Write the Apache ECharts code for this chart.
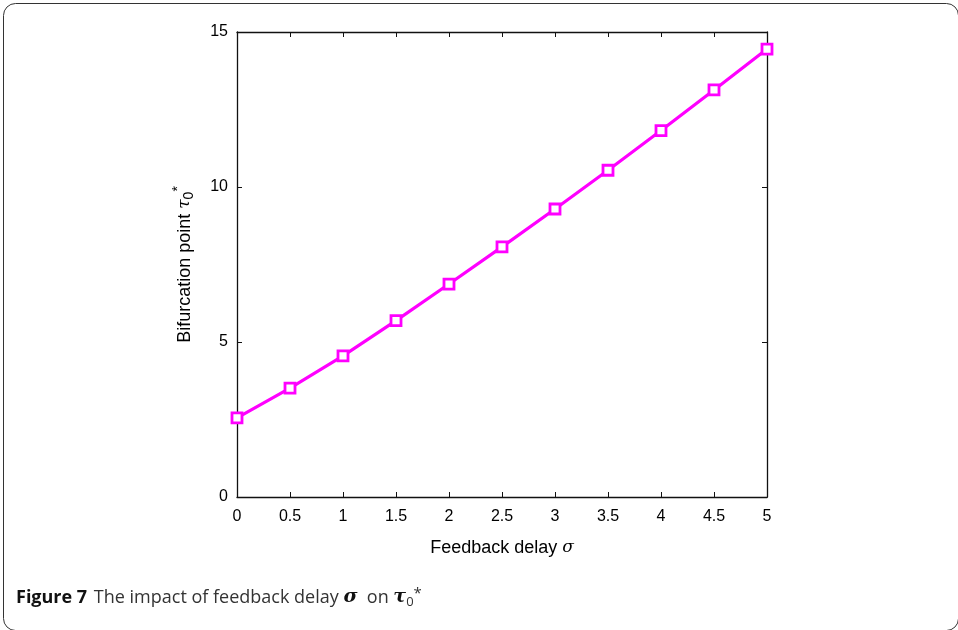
<!DOCTYPE html>
<html>
<head>
<meta charset="utf-8">
<script src="https://cdn.jsdelivr.net/npm/echarts@6/dist/echarts.min.js"></script>
<style>
  html, body { margin: 0; padding: 0; background: #fff; }
  #chart { width: 958px; height: 630px; }
</style>
</head>
<body>
<div id="chart"></div>
<script>
  // 数据
  const sigma = [0, 0.5, 1, 1.5, 2, 2.5, 3, 3.5, 4, 4.5, 5];
  const tau0 = [2.55, 3.51, 4.55, 5.69, 6.87, 8.07, 9.29, 10.54, 11.82, 13.13, 14.45];
  const xTicks = [0, 0.5, 1, 1.5, 2, 2.5, 3, 3.5, 4, 4.5, 5];
  const yTicks = [0, 5, 10, 15];

  const axisFont = 'Liberation Sans';
  const lineColor = '#ff00ff';

  let myChart = echarts.init(document.getElementById('chart'));

  // 坐标轴公共样式
  const frameLine = { show: true, onZero: false, lineStyle: { color: '#111', width: 1.3 } };
  const inTick = { show: true, inside: true, length: 5, lineStyle: { color: '#111' } };

  myChart.setOption({
    animation: false,
    grid: { left: 237, top: 32, width: 530, height: 465 },
    xAxis: [
      {
        type: 'value', min: xTicks[0], max: xTicks[xTicks.length - 1], interval: 0.5,
        axisLine: frameLine, axisTick: inTick, splitLine: { show: false },
        axisLabel: { color: '#000', fontFamily: axisFont, fontSize: 16, margin: 12 },
        name: '{t|Feedback delay }{g|σ}', nameLocation: 'middle', nameGap: 42,
        nameTextStyle: {
          rich: {
            t: { fontFamily: axisFont, fontSize: 18, color: '#000' },
            g: { fontFamily: 'DejaVu Serif', fontStyle: 'italic', fontSize: 17, color: '#000' }
          }
        }
      },
      {
        type: 'value', position: 'top', min: 0, max: 5, interval: 0.5,
        axisLine: frameLine, axisTick: inTick, axisLabel: { show: false }, splitLine: { show: false }
      }
    ],
    yAxis: [
      {
        type: 'value', min: yTicks[0], max: yTicks[yTicks.length - 1], interval: 5,
        axisLine: frameLine, axisTick: inTick, splitLine: { show: false },
        axisLabel: { color: '#000', fontFamily: axisFont, fontSize: 16, margin: 9 },
        name: '{t|Bifurcation point }{g|τ}{sub|0}{sup|*}', nameLocation: 'middle', nameGap: 38, nameRotate: 90,
        nameTextStyle: {
          rich: {
            t: { fontFamily: axisFont, fontSize: 18, color: '#000' },
            g: { fontFamily: 'DejaVu Serif', fontStyle: 'italic', fontSize: 17, color: '#000' },
            sub: { fontFamily: axisFont, fontSize: 14, color: '#000', padding: [8, 0, 0, 0] },
            sup: { fontFamily: axisFont, fontSize: 14, color: '#000', padding: [0, 0, 14, 0] }
          }
        }
      },
      {
        type: 'value', position: 'right', min: 0, max: 15, interval: 5,
        axisLine: frameLine, axisTick: inTick, axisLabel: { show: false }, splitLine: { show: false }
      }
    ],
    series: [
      {
        type: 'line',
        data: sigma.map((s, i) => [s, tau0[i]]),
        symbol: 'rect', symbolSize: 10,
        showAllSymbol: true,
        lineStyle: { color: lineColor, width: 3.2 },
        itemStyle: { color: '#fff', borderColor: lineColor, borderWidth: 2.8 },
        z: 3
      }
    ],
    graphic: [
      {
        type: 'rect', left: 1, top: 1, z: -1,
        shape: { width: 955, height: 627, r: 12 },
        style: { fill: 'none', stroke: '#333', lineWidth: 1 }
      },
      {
        type: 'text', left: 16, top: 586,
        style: {
          text: '{b|Figure 7}  {n|The impact of feedback delay }{g|σ}{n|  on }{g|τ}{sub|0}{sup|*}',
          rich: {
            b: { fontFamily: 'Open Sans', fontWeight: 'bold', fontSize: 18, fill: '#111' },
            n: { fontFamily: 'Open Sans', fontSize: 18, fill: '#333' },
            g: { fontFamily: 'DejaVu Serif', fontStyle: 'italic', fontWeight: 'bold', fontSize: 19, fill: '#111' },
            sub: { fontFamily: 'Open Sans', fontSize: 13, fill: '#333', padding: [9, 0, 0, 0] },
            sup: { fontFamily: 'Open Sans', fontSize: 15, fill: '#333', padding: [0, 0, 8, 0] }
          }
        }
      }
    ]
  });
</script>
</body>
</html>
